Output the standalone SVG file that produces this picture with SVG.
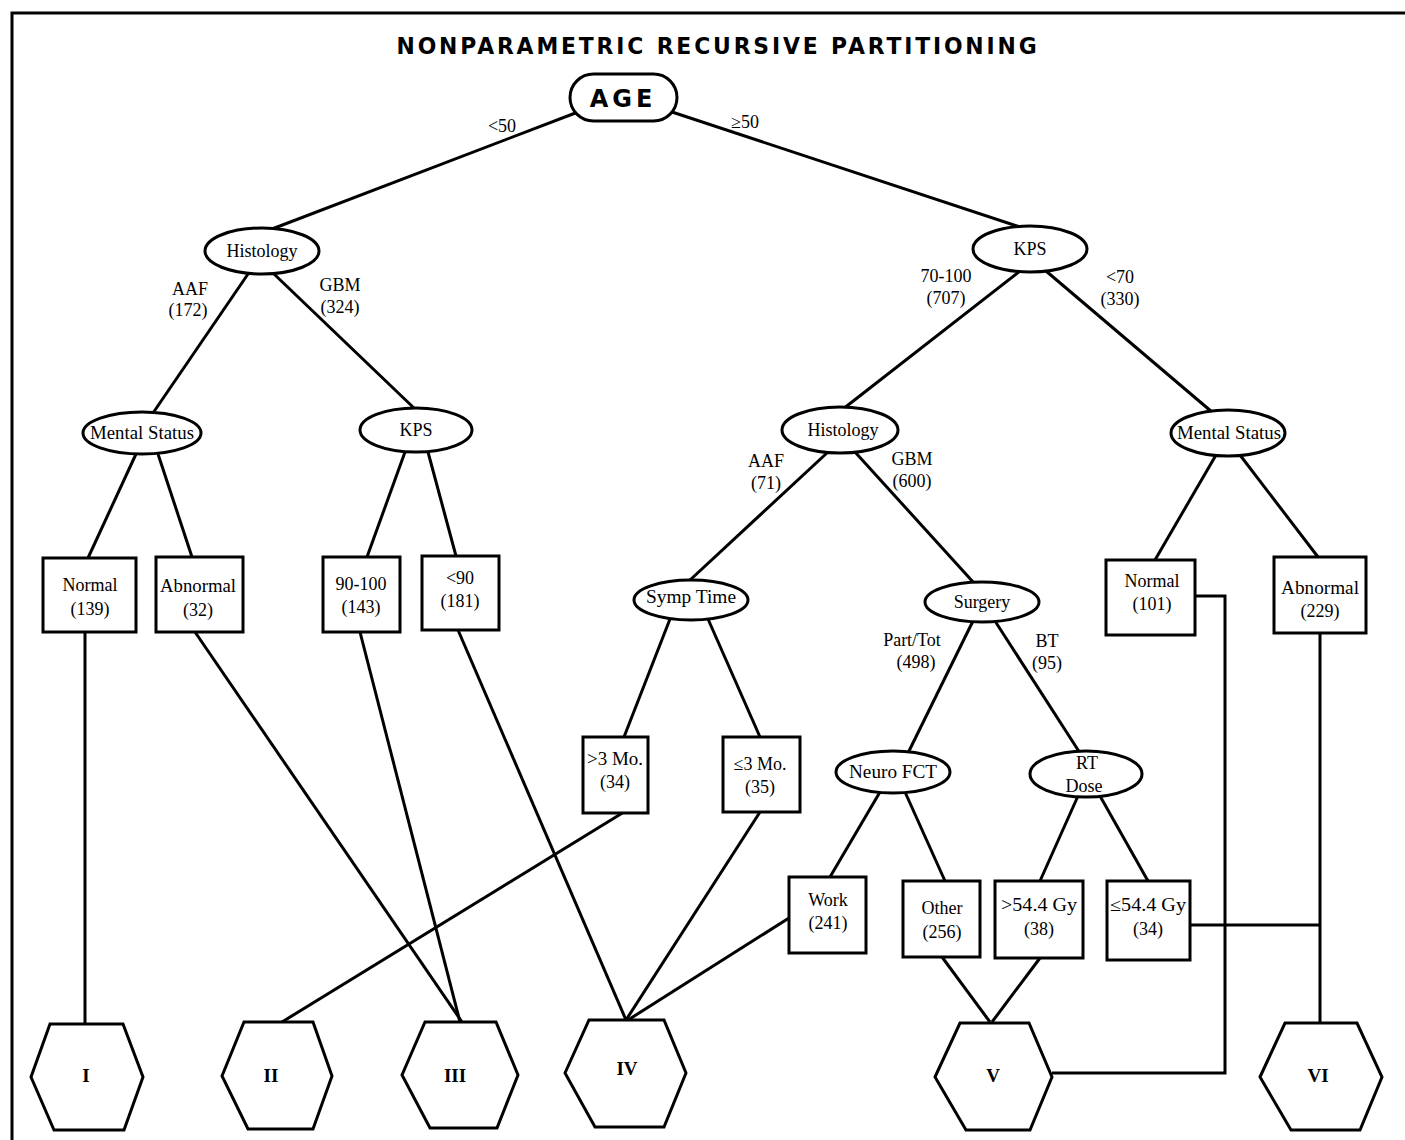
<svg xmlns="http://www.w3.org/2000/svg" width="1405" height="1140" viewBox="0 0 1405 1140">
<style>
.ln{stroke:#000;stroke-width:3;fill:none;stroke-linejoin:miter}
.sh{stroke:#000;stroke-width:3;fill:#fff}
.t{font-family:"Liberation Serif","Times New Roman",serif;font-size:18px;fill:#000;text-anchor:middle}
.h{font-family:"Liberation Serif","Times New Roman",serif;font-size:19px;font-weight:bold;fill:#000;text-anchor:middle}
.ti{font-family:"DejaVu Sans",sans-serif;font-weight:bold;fill:#000;text-anchor:middle}
</style>
<rect width="1405" height="1140" fill="#fff"/>
<path class="ln" d="M12 1140 V13 H1405"/>
<text class="ti" x="718" y="54" font-size="23" letter-spacing="3" textLength="643" lengthAdjust="spacingAndGlyphs">NONPARAMETRIC RECURSIVE PARTITIONING</text>

<g id="connectors">
<line class="ln" x1="578" y1="112" x2="272" y2="229"/>
<line class="ln" x1="672" y1="112" x2="1020" y2="227"/>
<line class="ln" x1="248" y1="274" x2="153" y2="413"/>
<line class="ln" x1="274" y1="274" x2="415" y2="409"/>
<line class="ln" x1="1020" y1="271" x2="843" y2="409"/>
<line class="ln" x1="1046" y1="271" x2="1212" y2="412"/>
<line class="ln" x1="136" y1="454" x2="88" y2="558"/>
<line class="ln" x1="158" y1="454" x2="192" y2="557"/>
<line class="ln" x1="405" y1="452" x2="367" y2="557"/>
<line class="ln" x1="428" y1="452" x2="456" y2="556"/>
<line class="ln" x1="828" y1="452" x2="689" y2="581"/>
<line class="ln" x1="855" y1="452" x2="974" y2="583"/>
<line class="ln" x1="1216" y1="455" x2="1155" y2="560"/>
<line class="ln" x1="1240" y1="455" x2="1318" y2="557"/>
<line class="ln" x1="670" y1="619" x2="624" y2="737"/>
<line class="ln" x1="708" y1="619" x2="760" y2="737"/>
<line class="ln" x1="973" y1="621" x2="908" y2="753"/>
<line class="ln" x1="995" y1="621" x2="1080" y2="753"/>
<line class="ln" x1="880" y1="792" x2="830" y2="877"/>
<line class="ln" x1="905" y1="792" x2="945" y2="881"/>
<line class="ln" x1="1078" y1="796" x2="1040" y2="881"/>
<line class="ln" x1="1100" y1="796" x2="1148" y2="881"/>
<line class="ln" x1="85" y1="632" x2="85" y2="1024"/>
<line class="ln" x1="195" y1="632" x2="462" y2="1022"/>
<line class="ln" x1="360" y1="632" x2="460" y2="1022"/>
<line class="ln" x1="458" y1="630" x2="626" y2="1020"/>
<line class="ln" x1="624" y1="812" x2="282" y2="1022"/>
<line class="ln" x1="760" y1="812" x2="626" y2="1020"/>
<line class="ln" x1="789" y1="918" x2="628" y2="1020"/>
<line class="ln" x1="942" y1="957" x2="990" y2="1022"/>
<line class="ln" x1="1040" y1="958" x2="992" y2="1022"/>
<path class="ln" d="M1195 596 H1225 V1073 H1052"/>
<line class="ln" x1="1320" y1="633" x2="1320" y2="1024"/>
<line class="ln" x1="1190" y1="925" x2="1320" y2="925"/>
</g>

<g id="edge-labels">
<text class="t" x="502" y="132">&lt;50</text>
<text class="t" x="745" y="128">≥50</text>
<text class="t" x="190" y="295">AAF</text>
<text class="t" x="188" y="316">(172)</text>
<text class="t" x="340" y="291">GBM</text>
<text class="t" x="340" y="313">(324)</text>
<text class="t" x="946" y="282">70-100</text>
<text class="t" x="946" y="304">(707)</text>
<text class="t" x="1120" y="283">&lt;70</text>
<text class="t" x="1120" y="305">(330)</text>
<text class="t" x="766" y="467">AAF</text>
<text class="t" x="766" y="489">(71)</text>
<text class="t" x="912" y="465">GBM</text>
<text class="t" x="912" y="487">(600)</text>
<text class="t" x="912" y="646">Part/Tot</text>
<text class="t" x="916" y="668">(498)</text>
<text class="t" x="1047" y="647">BT</text>
<text class="t" x="1047" y="669">(95)</text>
</g>

<g id="node-age"><rect class="sh" x="570" y="74" width="107" height="47" rx="23.5"/><text class="ti" x="623" y="107" font-size="24" letter-spacing="4">AGE</text></g>
<g id="node-histology1"><ellipse class="sh" cx="262" cy="251" rx="57" ry="23"/><text class="t" x="262" y="257">Histology</text></g>
<g id="node-kps1"><ellipse class="sh" cx="1030" cy="249" rx="57" ry="23"/><text class="t" x="1030" y="255">KPS</text></g>
<g id="node-mental1"><ellipse class="sh" cx="142" cy="433" rx="59" ry="21"/><text class="t" x="142" y="439" textLength="104" lengthAdjust="spacingAndGlyphs">Mental Status</text></g>
<g id="node-kps2"><ellipse class="sh" cx="416" cy="430" rx="56" ry="22"/><text class="t" x="416" y="436">KPS</text></g>
<g id="node-histology2"><ellipse class="sh" cx="840" cy="430" rx="58" ry="23"/><text class="t" x="843" y="436">Histology</text></g>
<g id="node-mental2"><ellipse class="sh" cx="1228" cy="433" rx="57" ry="23"/><text class="t" x="1229" y="439" textLength="104" lengthAdjust="spacingAndGlyphs">Mental Status</text></g>
<g id="node-symp"><ellipse class="sh" cx="691" cy="600" rx="57" ry="20"/><text class="t" x="691" y="603" textLength="90" lengthAdjust="spacingAndGlyphs">Symp Time</text></g>
<g id="node-surgery"><ellipse class="sh" cx="982" cy="602" rx="57" ry="20"/><text class="t" x="982" y="608">Surgery</text></g>
<g id="node-neuro"><ellipse class="sh" cx="893" cy="772" rx="57" ry="21"/><text class="t" x="893" y="778" textLength="88" lengthAdjust="spacingAndGlyphs">Neuro FCT</text></g>
<g id="node-rtdose"><ellipse class="sh" cx="1086" cy="774" rx="56" ry="23"/><text class="t" x="1087" y="769">RT</text><text class="t" x="1084" y="792">Dose</text></g>

<g id="node-normal139"><rect class="sh" x="43" y="558" width="93" height="74"/><text class="t" x="90" y="591">Normal</text><text class="t" x="90" y="615">(139)</text></g>
<g id="node-abnormal32"><rect class="sh" x="156" y="557" width="87" height="75"/><text class="t" x="198" y="592" textLength="76" lengthAdjust="spacingAndGlyphs">Abnormal</text><text class="t" x="198" y="616">(32)</text></g>
<g id="node-kps90100"><rect class="sh" x="323" y="557" width="77" height="75"/><text class="t" x="361" y="590">90-100</text><text class="t" x="361" y="613">(143)</text></g>
<g id="node-kpslt90"><rect class="sh" x="422" y="556" width="77" height="74"/><text class="t" x="460" y="584">&lt;90</text><text class="t" x="460" y="607">(181)</text></g>
<g id="node-normal101"><rect class="sh" x="1106" y="560" width="89" height="75"/><text class="t" x="1152" y="587">Normal</text><text class="t" x="1152" y="610">(101)</text></g>
<g id="node-abnormal229"><rect class="sh" x="1274" y="557" width="92" height="76"/><text class="t" x="1320" y="594" textLength="78" lengthAdjust="spacingAndGlyphs">Abnormal</text><text class="t" x="1320" y="617">(229)</text></g>
<g id="node-gt3mo"><rect class="sh" x="583" y="737" width="65" height="76"/><text class="t" x="615" y="765" textLength="56" lengthAdjust="spacingAndGlyphs">&gt;3 Mo.</text><text class="t" x="615" y="788">(34)</text></g>
<g id="node-le3mo"><rect class="sh" x="723" y="737" width="77" height="75"/><text class="t" x="760" y="770">≤3 Mo.</text><text class="t" x="760" y="793">(35)</text></g>
<g id="node-work"><rect class="sh" x="789" y="877" width="77" height="76"/><text class="t" x="828" y="906">Work</text><text class="t" x="828" y="929">(241)</text></g>
<g id="node-other"><rect class="sh" x="903" y="881" width="77" height="76"/><text class="t" x="942" y="914">Other</text><text class="t" x="942" y="938">(256)</text></g>
<g id="node-gt544"><rect class="sh" x="995" y="881" width="88" height="77"/><text class="t" x="1039" y="911" textLength="76" lengthAdjust="spacingAndGlyphs">&gt;54.4 Gy</text><text class="t" x="1039" y="935">(38)</text></g>
<g id="node-le544"><rect class="sh" x="1107" y="881" width="83" height="79"/><text class="t" x="1148" y="911" textLength="76" lengthAdjust="spacingAndGlyphs">≤54.4 Gy</text><text class="t" x="1148" y="935">(34)</text></g>

<g id="node-I"><polygon class="sh" points="31,1077 50,1024 123,1024 143,1077 124,1130 54,1130"/><text class="h" x="86" y="1082">I</text></g>
<g id="node-II"><polygon class="sh" points="222,1076 244,1022 313,1022 332,1076 313,1129 248,1129"/><text class="h" x="271" y="1082">II</text></g>
<g id="node-III"><polygon class="sh" points="402,1075 425,1022 496,1022 518,1075 497,1128 430,1128"/><text class="h" x="455" y="1082">III</text></g>
<g id="node-IV"><polygon class="sh" points="565,1073 589,1020 664,1020 686,1073 664,1127 595,1127"/><text class="h" x="627" y="1075">IV</text></g>
<g id="node-V"><polygon class="sh" points="935,1077 960,1023 1029,1023 1052,1077 1030,1130 966,1130"/><text class="h" x="993" y="1082">V</text></g>
<g id="node-VI"><polygon class="sh" points="1260,1077 1285,1023 1357,1023 1382,1077 1360,1130 1291,1130"/><text class="h" x="1318" y="1082">VI</text></g>
</svg>
